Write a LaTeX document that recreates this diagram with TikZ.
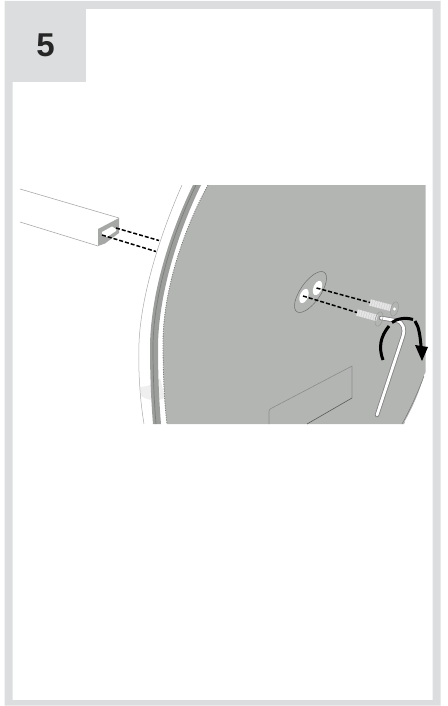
\documentclass[tikz,border=0pt]{standalone}
\usepackage{fontspec}
\setmainfont{Liberation Sans}
\definecolor{frameg}{HTML}{DCDDDE}
\definecolor{discg}{HTML}{B3B5B3}
\definecolor{bandg}{HTML}{9C9E9C}
\definecolor{bandd}{HTML}{7C7E7C}
\definecolor{lineg}{HTML}{A8AAA8}
\definecolor{smudge}{HTML}{EEEFEE}
\definecolor{faceg}{HTML}{A6A8A6}
\tikzset{
  thinline/.style={draw=lineg,line width=.6pt},
  dashline/.style={draw=black,line width=1.5pt,dash pattern=on 4pt off 2pt},
  backline/.style={draw=#1,line width=.6pt},
  hole/.style={fill=white,draw=none},
  screwbody/.style={line width=6.5pt,draw=white!90!black,dash pattern=on 2pt off .5pt},
  turn/.style={draw=black,line width=3pt},
}
\begin{document}
\begin{tikzpicture}[x=1pt,y=-1pt]
\useasboundingbox (0,0) rectangle (447,706);
% frame
\fill[frameg,even odd rule] (4.5,1) rectangle (440.7,705.7) (12.5,9) rectangle (432.7,700);
\fill[frameg] (4.5,1) rectangle (86,82);
\node[font=\bfseries,text=black!85,inner sep=0pt] (num) at (45.5,45) {\fontsize{33}{33}\selectfont 5};
% illustration clip
\begin{scope}
\clip (14,185) rectangle (425.5,424);
% smudge
\fill[smudge] (140,387) .. controls (150,386) and (156,384) .. (160,378) -- (165,398) .. controls (156,402) and (147,400) .. (141,396) -- cycle;
% outer thin edge
\draw[thinline,line width=.5pt] (182,185) .. controls (160,235) and (141,295) .. (139,343) .. controls (138,370) and (140,400) .. (144,424);
% band
\fill[bandg] (193,185) .. controls (172,228) and (151,290) .. (150,345) .. controls (150,375) and (151,400) .. (153,424)
  -- (161,424) .. controls (159,400) and (158,375) .. (158,345) .. controls (159,290) and (180,228) .. (201,185) -- cycle;
\draw[bandd,line width=.7pt] (196,185) .. controls (175,228) and (154,290) .. (153,345) .. controls (153,375) and (154,400) .. (156,424);
% disc
\fill[discg] (208,185) .. controls (186,225) and (164,285) .. (163,340) .. controls (163,370) and (164,400) .. (167,424)
  -- (404,424) .. controls (412,410) and (420,392) .. (425.5,372) -- (425.5,185) -- cycle;
\draw[bandd,line width=.8pt,dash pattern=on 1.2pt off 1.2pt] (208,185) .. controls (186,225) and (164,285) .. (163,340) .. controls (163,370) and (164,400) .. (167,424);
\draw[white,line width=.9pt] (405,422) .. controls (413,408) and (420,392) .. (425,374);
\draw[lineg!70!black,line width=.5pt] (402,424) .. controls (410,410) and (418,392) .. (424,376);
% back rectangle
\draw[backline=black!45] (269,424) -- (269,411) .. controls (269,410) and (270,409) .. (271,408.5) -- (352,366) -- (352,398);
\draw[backline=black!65] (352,398) -- (307,424);
\end{scope}
% plate and holes
\draw[lineg!65!black,line width=.5pt,rotate around={-35:(310.5,292)}] (310.5,292) ellipse [x radius=10,y radius=24];
\fill[hole,rotate around={-22:(304,296)}] (304,296) ellipse [x radius=4,y radius=7.5];
\fill[hole,rotate around={-22:(317.5,288)}] (317.5,288) ellipse [x radius=4,y radius=7.5];
% wrench
\coordinate (keya) at (381,318);
\coordinate (keyb) at (377,415);
\draw[black!50,line width=4.4pt,line cap=round] (keya) -- (396,320.5) .. controls (404,322) and (405,330) .. (403,336) -- (keyb);
\draw[white,line width=2.8pt,line cap=round] (keya) -- (396,320.5) .. controls (404,322) and (405,330) .. (403,336) -- (keyb);
% screws
\coordinate (sa1) at (370,302.5);
\coordinate (sa2) at (391,308);
\coordinate (sb1) at (357,312.5);
\coordinate (sb2) at (377,318);
\draw[screwbody] (sa1) -- (sa2);
\draw[screwbody] (sb1) -- (sb2);
\draw[black!40,line width=.5pt,fill=discg,rotate around={-15:(394.5,309)}] (394.5,309) ellipse [x radius=3.6,y radius=7.4];
\draw[black!40,line width=.5pt,rotate around={-15:(379,319)}] (379,319) ellipse [x radius=3.6,y radius=7.4];
\fill[white] (394.5,309) circle (1.6);
% dashed insertion lines
\coordinate (pa) at (316.5,288);
\coordinate (pb) at (303,296);
\draw[dashline] (pa) -- (sa1);
\draw[dashline] (pb) -- (sb1);
% tube
\coordinate (t1) at (20,189);
\coordinate (t2) at (119,218);
\coordinate (t3) at (20,222);
\coordinate (t4) at (98,246);
\draw[thinline] (t1) -- (t2);
\draw[thinline] (t3) -- (t4);
\fill[faceg] (98,229) -- (t2) -- (119,233) -- (105,243.5) -- (t4) -- cycle;
\fill[white] (102,232) -- (112,226.5) -- (116,229) -- (116,231) -- (107,237) -- (102,234.5) -- cycle;
\fill[black!35] (102,236) -- (108,238.5) -- (104,241) -- (101,239.5) -- cycle;
\coordinate (da) at (116,228);
\coordinate (db) at (102,235);
\coordinate (ea) at (159,240.5);
\coordinate (eb) at (156,251.5);
\draw[dashline] (da) -- (ea);
\draw[dashline] (db) -- (eb);
% turn arrow
\draw[turn] (383,360) .. controls (378.5,348) and (380,337) .. (389,326);
\draw[turn] (392,322.5) .. controls (396,319) and (405,317) .. (413,319.5);
\draw[turn] (415,321) .. controls (419,327) and (420,335) .. (421,346);
\fill[black] (415,345) -- (428,347) -- (422,361) -- cycle;
\end{tikzpicture}
\end{document}
